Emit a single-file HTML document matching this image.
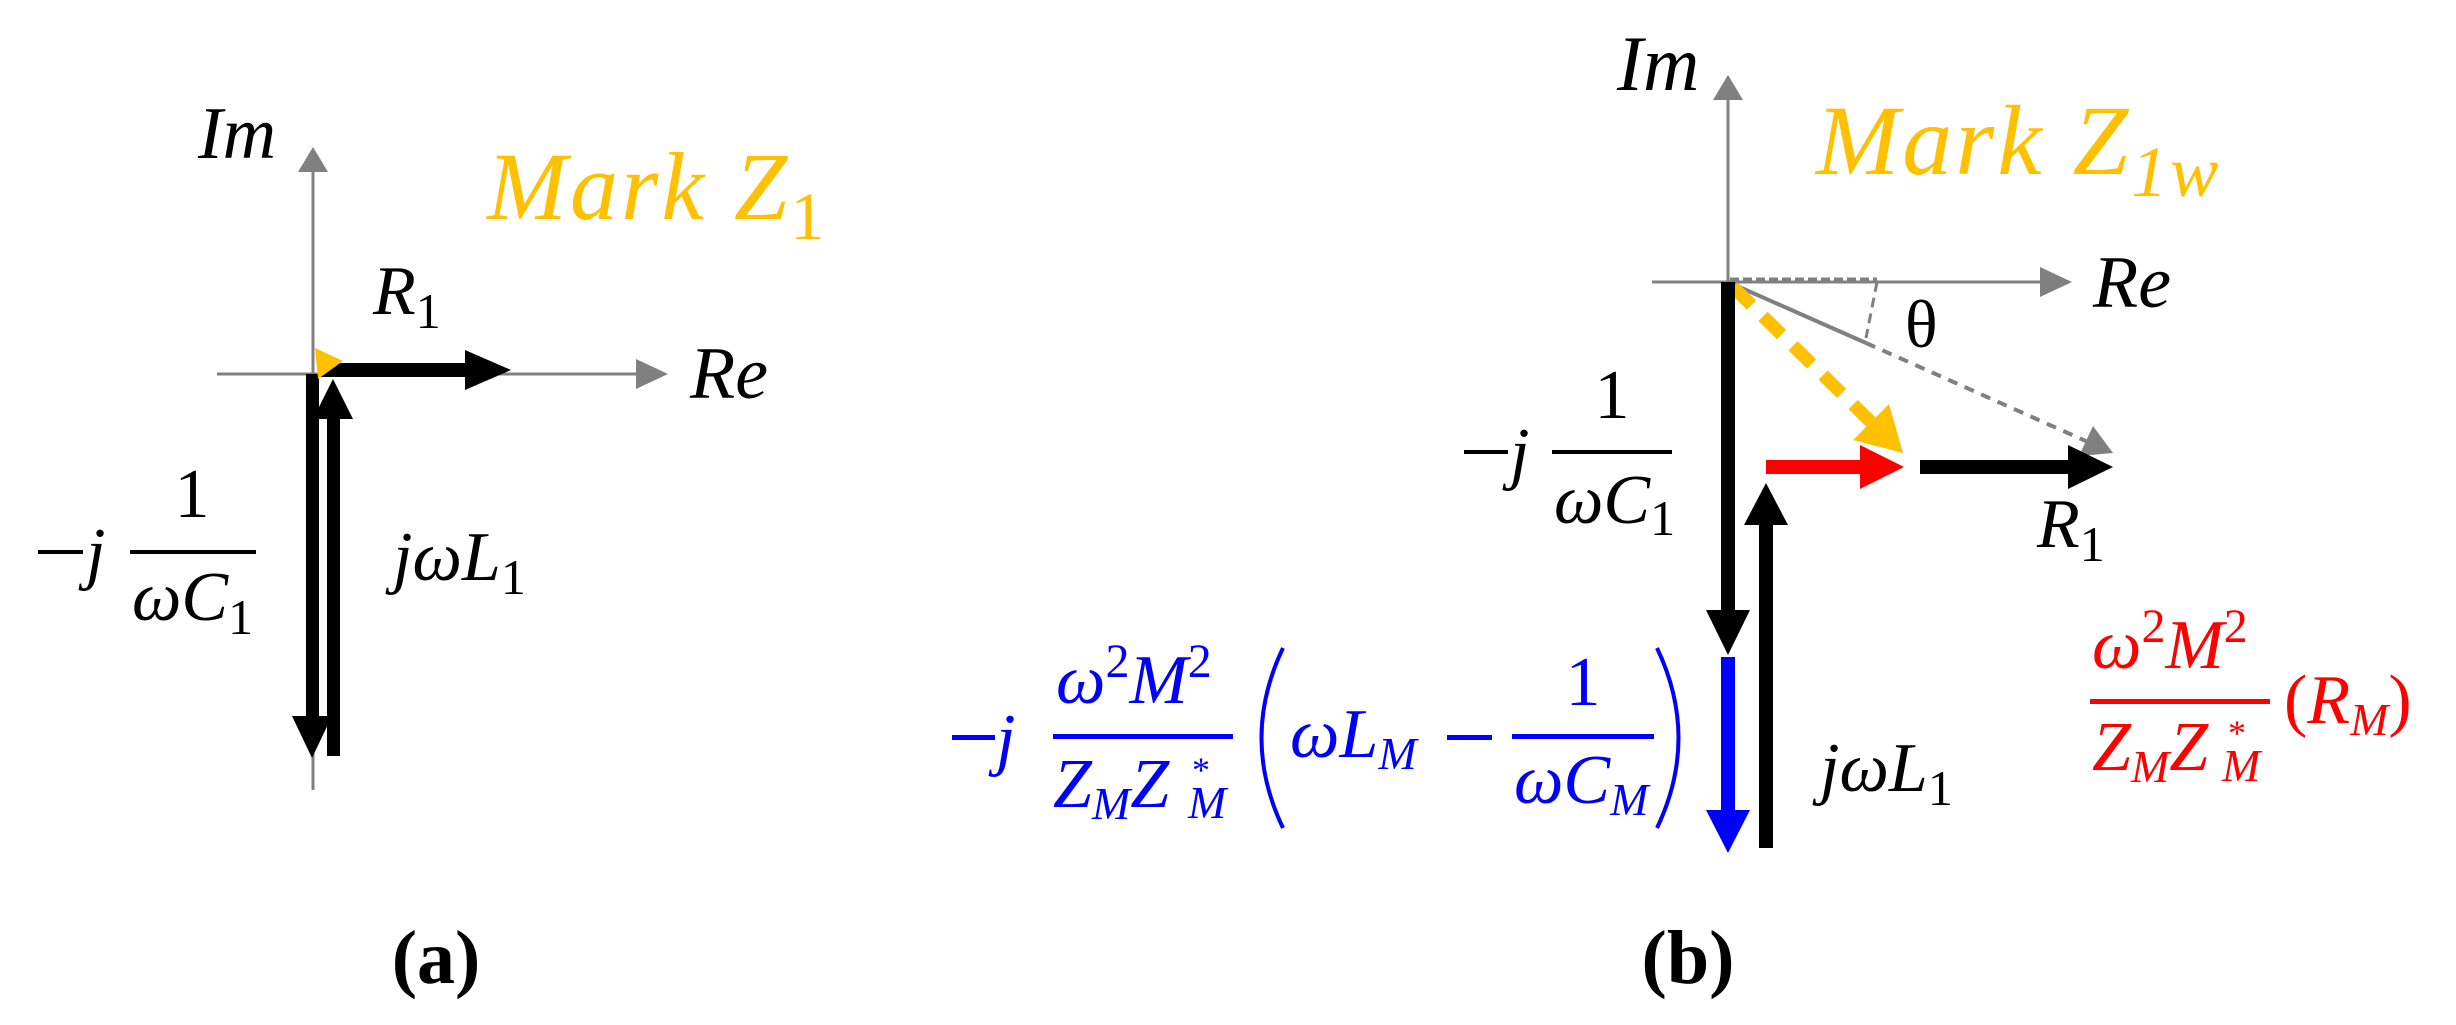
<!DOCTYPE html>
<html><head><meta charset="utf-8"><style>
html,body{margin:0;padding:0;background:#fff;}
svg{display:block;}
text{font-family:"Liberation Serif",serif;}
.m{font-style:italic;}
</style></head><body>
<svg width="2456" height="1025" viewBox="0 0 2456 1025" xmlns="http://www.w3.org/2000/svg">
<!-- Panel a -->
<line x1="313" y1="790" x2="313" y2="168" stroke="#808080" stroke-width="3"/>
<polygon points="298,172 328,172 313,147" fill="#808080"/>
<line x1="217" y1="374" x2="640" y2="374" stroke="#808080" stroke-width="3"/>
<polygon points="636,359 636,389 668,374" fill="#808080"/>
<rect x="306" y="374" width="13" height="344" fill="#000"/>
<polygon points="292,716 332,716 312,758" fill="#000"/>
<rect x="327" y="417" width="13" height="339" fill="#000"/>
<polygon points="313,419 353,419 333,379" fill="#000"/>
<rect x="318" y="363" width="150" height="14" fill="#000"/>
<polygon points="465,350 465,390 511,370" fill="#000"/>
<polygon points="315,348 343,361 318,379" fill="#FFC000"/>
<text x="198" y="158" class="m" font-size="74">Im</text>
<text x="690" y="398" class="m" font-size="74">Re</text>
<text x="373" y="314" class="m" font-size="70">R<tspan font-size="50" dy="14" font-style="normal">1</tspan></text>
<text x="487" y="219" class="m" font-size="96" fill="#FFC000" letter-spacing="3">Mark Z<tspan font-size="68" dy="20" font-style="normal">1</tspan></text>
<line x1="38" y1="552" x2="83" y2="552" stroke="#000" stroke-width="4"/>
<text x="86" y="576" class="m" font-size="70">j</text>
<line x1="130" y1="552" x2="256" y2="552" stroke="#000" stroke-width="4"/>
<text x="192" y="517" font-size="70" text-anchor="middle">1</text>
<text x="132" y="620" class="m" font-size="70">ωC<tspan font-size="50" dy="14" font-style="normal">1</tspan></text>
<text x="393" y="580" class="m" font-size="70">jωL<tspan font-size="50" dy="14" font-style="normal">1</tspan></text>
<text x="436" y="983" font-size="76" font-weight="bold" text-anchor="middle">(a)</text>

<!-- Panel b -->
<line x1="1728" y1="282" x2="1728" y2="96" stroke="#808080" stroke-width="3"/>
<polygon points="1713,100 1743,100 1728,75" fill="#808080"/>
<line x1="1652" y1="282" x2="2044" y2="282" stroke="#808080" stroke-width="3"/>
<polygon points="2040,267 2040,297 2072,282" fill="#808080"/>
<line x1="1730" y1="280" x2="1877" y2="280" stroke="#808080" stroke-width="5" stroke-dasharray="9 4"/>
<line x1="1877" y1="282" x2="1866" y2="338" stroke="#808080" stroke-width="3" stroke-dasharray="10 6"/>
<line x1="1728" y1="282" x2="1866" y2="343" stroke="#808080" stroke-width="4"/>
<line x1="1866" y1="343" x2="2088" y2="442" stroke="#808080" stroke-width="4" stroke-dasharray="10 8"/>
<polygon points="2079,456 2093,426 2113,453" fill="#808080"/>
<line x1="1733" y1="287" x2="1871" y2="422" stroke="#FFC000" stroke-width="13" stroke-dasharray="26 16"/>
<polygon points="1853,440 1889,404 1903,453" fill="#FFC000"/>
<rect x="1721" y="282" width="14" height="330" fill="#000"/>
<polygon points="1706,610 1750,610 1728,655" fill="#000"/>
<rect x="1721" y="657" width="14" height="155" fill="#0000FF"/>
<polygon points="1706,810 1750,810 1728,853" fill="#0000FF"/>
<rect x="1759" y="523" width="14" height="325" fill="#000"/>
<polygon points="1744,525 1788,525 1766,483" fill="#000"/>
<rect x="1766" y="460" width="96" height="14" fill="#FF0000"/>
<polygon points="1860,445 1860,489 1904,467" fill="#FF0000"/>
<rect x="1920" y="460" width="150" height="14" fill="#000"/>
<polygon points="2068,445 2068,489 2113,467" fill="#000"/>
<text x="1617" y="90" class="m" font-size="78">Im</text>
<text x="2093" y="307" class="m" font-size="74">Re</text>
<text x="1816" y="174" class="m" font-size="100" fill="#FFC000" letter-spacing="3">Mark Z<tspan font-size="72" dy="22">1w</tspan></text>
<text x="1905" y="347" font-size="68">θ</text>
<text x="2037" y="547" class="m" font-size="70">R<tspan font-size="50" dy="14" font-style="normal">1</tspan></text>
<line x1="1464" y1="452" x2="1508" y2="452" stroke="#000" stroke-width="4"/>
<text x="1510" y="476" class="m" font-size="70">j</text>
<line x1="1552" y1="452" x2="1672" y2="452" stroke="#000" stroke-width="4"/>
<text x="1612" y="418" font-size="70" text-anchor="middle">1</text>
<text x="1554" y="523" class="m" font-size="70">ωC<tspan font-size="50" dy="12" font-style="normal">1</tspan></text>
<text x="1820" y="791" class="m" font-size="70">jωL<tspan font-size="50" dy="14" font-style="normal">1</tspan></text>
<!-- blue formula -->
<g fill="#0000FF">
<rect x="952" y="735" width="43" height="5"/>
<text x="996" y="762" class="m" font-size="70">j</text>
<rect x="1053" y="734" width="180" height="5"/>
<text x="1056" y="703" class="m" font-size="70">ω<tspan font-size="48" dy="-26" font-style="normal">2</tspan><tspan dy="26">M</tspan><tspan font-size="48" dy="-26" font-style="normal">2</tspan></text>
<text x="1053" y="807" class="m" font-size="70">Z<tspan font-size="46" dy="12">M</tspan><tspan dy="-12">Z</tspan></text>
<text x="1188" y="818" class="m" font-size="46">M</text>
<text x="1192" y="782" font-size="36">*</text>
<text x="1290" y="757" class="m" font-size="70">ωL<tspan font-size="46" dy="12">M</tspan></text>
<rect x="1447" y="735" width="45" height="5"/>
<rect x="1512" y="734" width="142" height="5"/>
<text x="1583" y="705" font-size="70" text-anchor="middle">1</text>
<text x="1514" y="803" class="m" font-size="70">ωC<tspan font-size="46" dy="12">M</tspan></text>
</g>
<path d="M1283,648 Q1240,738 1283,828" stroke="#0000FF" stroke-width="4" fill="none"/>
<path d="M1657,648 Q1700,738 1657,828" stroke="#0000FF" stroke-width="4" fill="none"/>
<!-- red formula -->
<g fill="#FF0000">
<rect x="2090" y="699" width="180" height="5"/>
<text x="2092" y="668" class="m" font-size="70">ω<tspan font-size="48" dy="-26" font-style="normal">2</tspan><tspan dy="26">M</tspan><tspan font-size="48" dy="-26" font-style="normal">2</tspan></text>
<text x="2092" y="770" class="m" font-size="70">Z<tspan font-size="46" dy="12">M</tspan><tspan dy="-12">Z</tspan></text>
<text x="2222" y="781" class="m" font-size="46">M</text>
<text x="2228" y="745" font-size="36">*</text>
<text x="2284" y="723" font-size="70">(<tspan font-style="italic">R</tspan><tspan font-size="46" dy="12" font-style="italic">M</tspan><tspan dy="-12">)</tspan></text>
</g>
<text x="1688" y="983" font-size="76" font-weight="bold" text-anchor="middle">(b)</text>
</svg>
</body></html>
